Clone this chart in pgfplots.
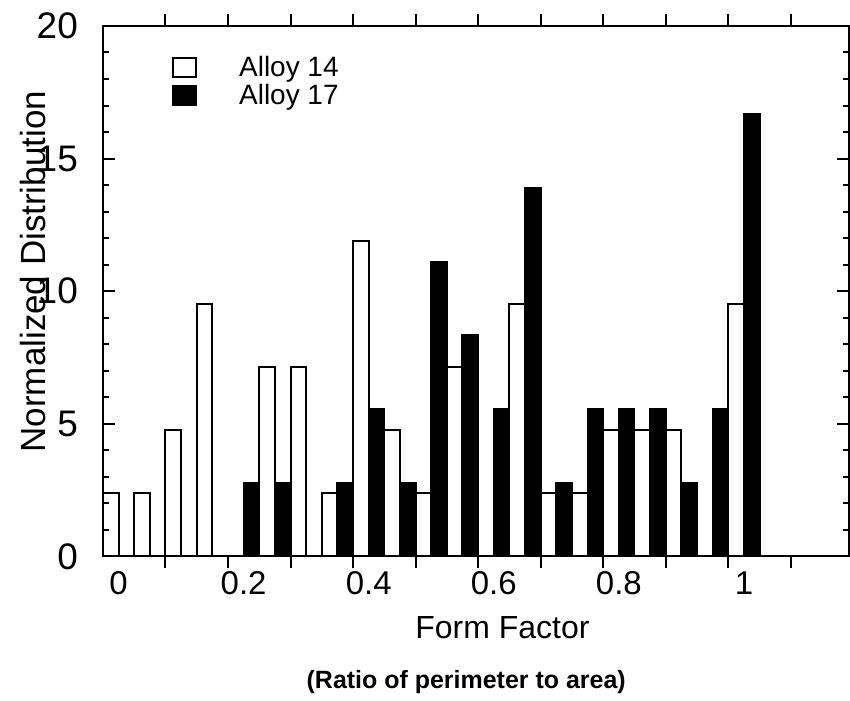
\documentclass[border=0pt]{standalone}
\usepackage{pgfplots}
\pgfplotsset{compat=1.18}
\usepackage{fontspec}
\setmainfont{Liberation Sans}
\begin{document}
\begin{tikzpicture}
\begin{axis}[
  scale only axis,
  width=373.5pt, height=265.5pt,
  xmin=-0.025, xmax=1.168,
  ymin=0, ymax=20,
  axis on top,
  axis line style={line width=1pt},
  tick style={black, line width=1pt},
  major tick length=6pt, minor tick length=3pt,
  tick align=inside,
  xtick={0.075,0.175,0.275,0.375,0.475,0.575,0.675,0.775,0.875,0.975,1.075},
  xticklabels={},
  extra x ticks={0,0.2,0.4,0.6,0.8,1},
  extra x tick labels={0,0.2,0.4,0.6,0.8,1},
  extra x tick style={major tick length=0pt, tick style={draw=none}},
  xticklabel style={font=\fontsize{16.5}{19}\selectfont, yshift=-4pt},
  ytick={0,5,10,15,20},
  minor y tick num=4,
  yticklabel style={font=\fontsize{18.5}{21}\selectfont, xshift=-9pt},
  /pgf/number format/assume math mode=true,
  xlabel={Form Factor},
  xlabel style={at={(axis description cs:0.5355,-0.134)}, anchor=center, font=\fontsize{16}{19}\selectfont},
  ylabel={Normalized Distribution},
  ylabel style={at={(axis description cs:-0.093,0.5367)}, anchor=center, font=\fontsize{17.5}{20}\selectfont},
  ybar, bar width=0.025, bar shift=0pt,
  legend style={at={(axis description cs:0.0924,0.952)}, anchor=north west, draw=none, fill=none,
    font=\fontsize{14}{16}\selectfont, inner sep=0pt, row sep=-1.5pt},
  legend cell align=left,
  legend image code/.code={\draw[#1, line width=1pt] (0pt,-4.75pt) rectangle (11.5pt,4.75pt); \path[draw=none,fill=none] (0pt,0pt) -- (31pt,0pt);},
  clip=false,
]
\addplot[draw=black, fill=white, line width=1pt] coordinates {
(-0.0125,2.38) (0.0375,2.38) (0.0875,4.76) (0.1375,9.52) (0.2375,7.14) (0.2875,7.14)
(0.3375,2.38) (0.3875,11.90) (0.4375,4.76) (0.4875,2.38) (0.5375,7.14) (0.6375,9.52)
(0.6875,2.38) (0.7375,2.38) (0.7875,4.76) (0.8375,4.76) (0.8875,4.76) (0.9875,9.52)
};
\addlegendentry{Alloy 14}
\addplot[draw=black, fill=black, line width=1pt] coordinates {
(0.2125,2.78) (0.2625,2.78) (0.3625,2.78) (0.4125,5.56) (0.4625,2.78) (0.5125,11.11)
(0.5625,8.33) (0.6125,5.56) (0.6625,13.89) (0.7125,2.78) (0.7625,5.56) (0.8125,5.56)
(0.8625,5.56) (0.9125,2.78) (0.9625,5.56) (1.0125,16.67)
};
\addlegendentry{Alloy 17}
\node[font=\bfseries\fontsize{12.5}{15}\selectfont, anchor=center] at (axis description cs:0.487,-0.2373) {(Ratio of perimeter to area)};
\end{axis}
\path[use as bounding box] (-51.5pt,-68.5pt) rectangle (373.5pt,278.5pt);
\end{tikzpicture}
\end{document}
